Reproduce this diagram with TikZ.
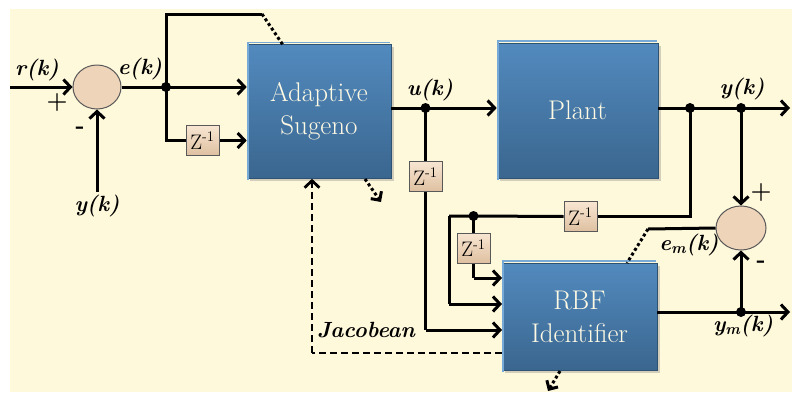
\documentclass[tikz,border=0pt]{standalone}
\usepackage{fontspec}
\usetikzlibrary{arrows.meta,shadows,calc,shapes.geometric}
\definecolor{cream}{RGB}{255,249,220}
\definecolor{btop}{RGB}{82,138,190}
\definecolor{bbot}{RGB}{58,102,143}
\definecolor{bhi}{RGB}{120,170,215}
\definecolor{ztop}{RGB}{248,230,210}
\definecolor{zbot}{RGB}{222,192,160}
\definecolor{sumf}{RGB}{238,212,185}
\definecolor{btxt}{RGB}{255,250,228}
\tikzset{
  blk/.style={draw=bbot!80!black, line width=0.6pt, top color=btop, bottom color=bbot, inner sep=0pt,
    drop shadow={shadow xshift=2.5pt, shadow yshift=-2.5pt, opacity=0.35},
    text=btxt, font=\fontsize{27}{33}\selectfont, align=center},
  zbox/.style={draw=black!65, line width=1pt, top color=ztop, bottom color=zbot, inner sep=0pt,
    minimum width=33pt, minimum height=30pt, font=\fontsize{21}{21}\selectfont},
  sumc/.style={ellipse, draw=black!65, line width=1pt, fill=sumf, inner sep=0pt},
  jdot/.style={circle, fill=black, inner sep=0pt, minimum size=10pt},
  lbl/.style={font=\fontsize{22}{22}\selectfont\bfseries\itshape, inner sep=0pt},
  sgn/.style={font=\fontsize{24}{24}\selectfont\bfseries, inner sep=0pt},
  wire/.style={line width=3pt},
  arr/.style={wire, -{Straight Barb[length=7pt,width=15pt]}},
  dotw/.style={line width=3pt, dash pattern=on 3pt off 2.6pt},
  dotarr/.style={dotw, -{Straight Barb[length=6.5pt,width=13pt]}},
  dashw/.style={line width=2.8pt, dash pattern=on 7pt off 4pt},
}
\begin{document}
\begin{tikzpicture}[x=1pt,y=-1pt]
\useasboundingbox (0,0) rectangle (792,394);
\fill[cream] (10,9) rectangle (792,392);
% blocks
\node[blk, minimum width=144pt, minimum height=134pt] (ada) at (319,111.5) {Adaptive\\Sugeno};
\node[blk, minimum width=161pt, minimum height=135pt] (plant) at (577.5,110.5) {Plant};
\node[blk, minimum width=155pt, minimum height=107pt] (rbf) at (579.5,316.5) {RBF\\Identifier};
\foreach \b in {ada,plant,rbf}{
  \draw[bhi, line width=1.5pt] ([shift={(1.5pt,-1.5pt)}]\b.south west) -- ([shift={(1.5pt,1.5pt)}]\b.north west) -- ([shift={(-1.5pt,1.5pt)}]\b.north east);
}
\node[sumc, minimum width=48pt, minimum height=44pt] (s1) at (97,87) {};
\node[sumc, minimum width=50pt, minimum height=44pt] (s2) at (741,228) {};
\node[zbox] (z1) at (202.5,140.5) {Z\textsuperscript{-1}};
\node[zbox] (z2) at (425.5,176.5) {Z\textsuperscript{-1}};
\node[zbox] (z3) at (580.5,216.5) {Z\textsuperscript{-1}};
\node[zbox] (z4) at (473.5,248) {Z\textsuperscript{-1}};
% junctions
\node[jdot] (j1) at (166,87) {};
\node[jdot] (j2) at (425.5,108) {};
\node[jdot] (j3) at (690,108) {};
\node[jdot] (j4) at (741,108) {};
\node[jdot] (j5) at (473.5,216) {};
\node[jdot] (j6) at (741,312) {};
\coordinate (rin) at (10,87);
\coordinate (yin) at (97,192);
\coordinate (top1) at (166,14);
\coordinate (top2) at (262,14);
\coordinate (topd) at (283,45);
\coordinate (yout) at (790,108);
\coordinate (ymout) at (790,312);
\coordinate (emc) at (648,229);
\coordinate (emd) at (627,263);
\coordinate (loop1) at (449,216);
\coordinate (jacc) at (312,353);
% wires
\draw[arr] (rin) -- (s1.west);
\draw[arr] (yin) -- (s1.south);
\draw[wire] (s1.east) -- (j1.center);
\draw[arr] (j1.center) -- (j1 -| ada.west);
\draw[wire] (j1.center) |- (z1.west);
\draw[arr] (z1.east) -- (z1 -| ada.west);
\draw[wire] (j1.center) -- (top1) -- (top2);
\draw[dotw] (top2) -- (topd);
\draw[wire] (j2 -| ada.east) -- (j2.center);
\draw[arr] (j2.center) -- (j2 -| plant.west);
\draw[wire] (j2.center) -- (z2.north);
\draw[wire] (z2.south) -- (425.5,330);
\draw[arr] (425.5,330) -- (502,330);
\draw[wire] (plant.east |- j3) -- (j3.center) -- (j4.center);
\draw[arr] (j4.center) -- (yout);
\draw[arr] (j4.center) -- (s2.north);
\draw[wire] (j3.center) |- (z3.east);
\draw[wire] (z3.west) -- (j5.center) -- (loop1);
\draw[wire] (loop1) -- (449,304);
\draw[arr] (449,304) -- (502,304);
\draw[wire] (j5.center) -- (z4.north);
\draw[wire] (z4.south) -- (473.5,278);
\draw[arr] (473.5,278) -- (502,278);
\draw[wire] (rbf.east |- j6) -- (j6.center);
\draw[arr] (j6.center) -- (ymout);
\draw[arr] (j6.center) -- (s2.south);
\draw[wire] (s2.west) -- (emc);
\draw[dotw] (emc) -- (emd);
\draw[dotarr] (365,179) -- (381,202);
\draw[dotarr] (560,371) -- (548,391);
\draw[dashw] (jacc -| rbf.west) -- (jacc);
\draw[dashw, -{Straight Barb[length=7pt,width=15pt]}] (jacc) -- (jacc |- ada.south);
% labels
\node[lbl] (lr) at (37,70) {r(k)};
\node[lbl] (le) at (140,69) {e(k)};
\node[lbl] (ly) at (97,206) {y(k)};
\node[lbl] (lu) at (430,90) {u(k)};
\node[lbl] (ly2) at (742,89) {y(k)};
\node[lbl] (lem) at (689,245) {e\textsubscript{m}(k)};
\node[lbl] (lym) at (743,326) {y\textsubscript{m}(k)};
\node[sgn] (p1) at (57,103) {+};
\node[sgn] (m1) at (80,130) {-};
\node[sgn] (p2) at (761,193) {+};
\node[sgn] (m2) at (761,264) {-};
\node[font=\fontsize{22}{22}\selectfont\itshape\bfseries, inner sep=0pt] (jac) at (366,330) {Jacobean};
\end{tikzpicture}
\end{document}
